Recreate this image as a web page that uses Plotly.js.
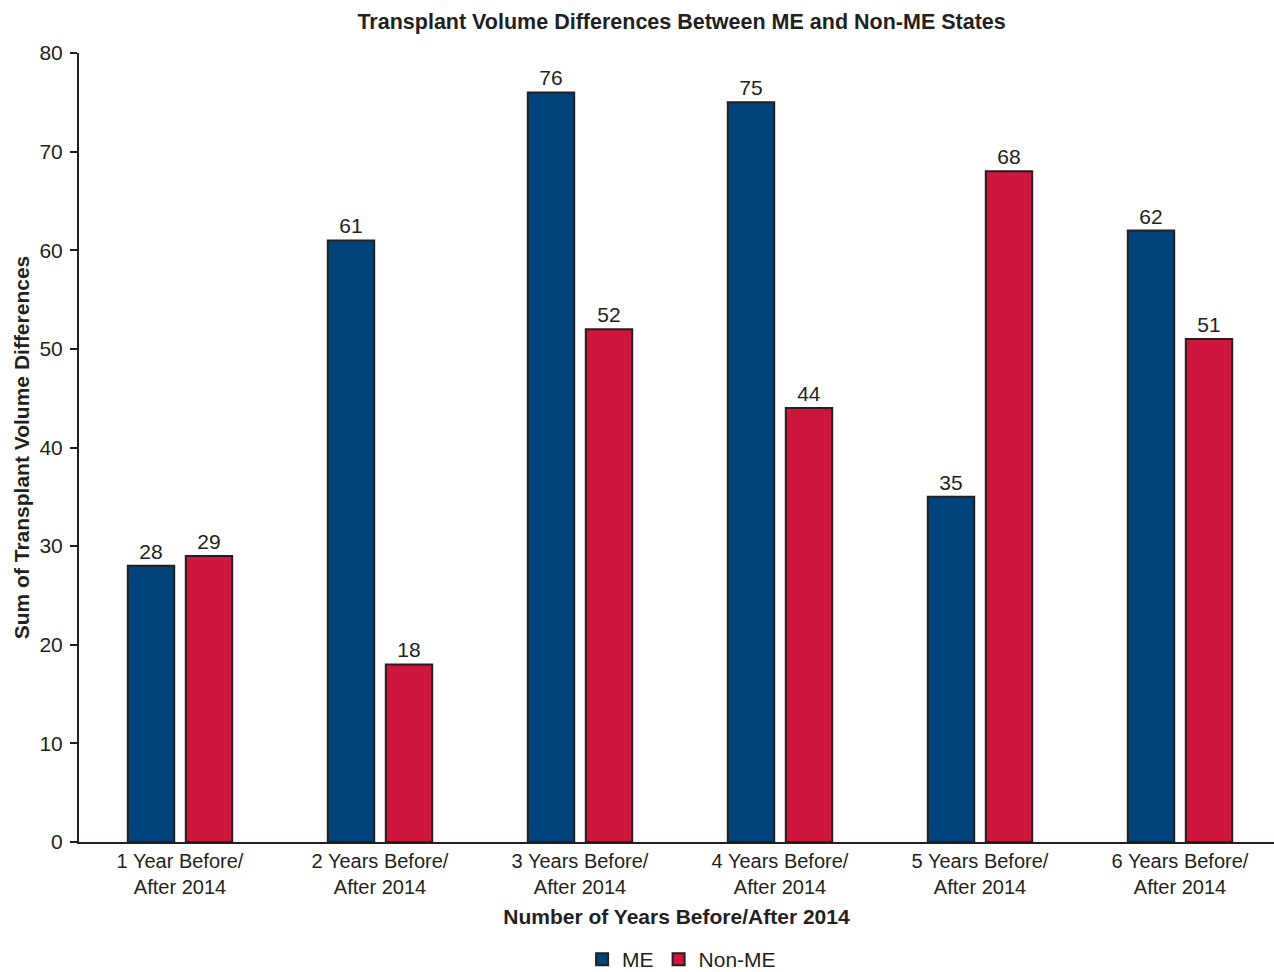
<!DOCTYPE html>
<html>
<head>
<meta charset="utf-8">
<script src="https://cdn.plot.ly/plotly-3.0.1.min.js"></script>
<style>html,body{margin:0;padding:0;background:#fff;}#chart{width:1274px;height:972px;}</style>
</head>
<body>
<div id="chart"></div>
<script>
const categories = ["1 Year Before/<br>After 2014", "2 Years Before/<br>After 2014", "3 Years Before/<br>After 2014", "4 Years Before/<br>After 2014", "5 Years Before/<br>After 2014", "6 Years Before/<br>After 2014"];
const meValues = [28, 61, 76, 75, 35, 62];
const nonMeValues = [29, 18, 52, 44, 68, 51];
const yTicks = [0, 10, 20, 30, 40, 50, 60, 70, 80];

const dark = "#231f20";
const font = "Liberation Sans, Arial, sans-serif";
const fs = 21;

const traces = [
  {type: "bar", name: "ME", x: categories, y: meValues, text: meValues.map(String),
   textposition: "outside", cliponaxis: false,
   textfont: {family: font, size: fs, color: dark},
   marker: {color: "#00427a", line: {color: dark, width: 2}}},
  {type: "bar", name: "Non-ME", x: categories, y: nonMeValues, text: nonMeValues.map(String),
   textposition: "outside", cliponaxis: false,
   textfont: {family: font, size: fs, color: dark},
   marker: {color: "#cf163c", line: {color: dark, width: 2}}}
];

const layout = {
  width: 1274, height: 972,
  margin: {l: 79, r: 0, t: 53, b: 130, autoexpand: false},
  paper_bgcolor: "#fff", plot_bgcolor: "#fff",
  font: {family: font, color: dark, size: fs},
  barmode: "group", bargap: 0.42, bargroupgap: 0.2,
  title: {text: "<b>Transplant Volume Differences Between ME and Non-ME States</b>",
          font: {family: font, size: 21.5, color: dark},
          x: 0.535, xref: "container", xanchor: "center", y: 0.978, yref: "container", yanchor: "middle"},
  xaxis: {type: "category", range: [-0.505, 5.47], showline: true, linecolor: dark, linewidth: 2,
          ticks: "", showgrid: false, zeroline: false,
          tickfont: {family: font, size: 20, color: dark},
          title: {text: "<b>Number of Years Before/After 2014</b>", font: {family: font, size: fs, color: dark}, standoff: 12}},
  yaxis: {range: [0, 80], tickvals: yTicks, showline: true, linecolor: dark, linewidth: 2,
          ticks: "outside", ticklen: 7, tickwidth: 2, tickcolor: dark, showgrid: false, zeroline: false,
          ticklabelstandoff: 3,
          tickfont: {family: font, size: fs, color: dark},
          title: {text: "<b>Sum of Transplant Volume Differences</b>", font: {family: font, size: fs, color: dark}, standoff: 4}},
  showlegend: true,
  legend: {orientation: "h", x: 0.535, xref: "container", xanchor: "center", y: -0.149, yref: "paper", yanchor: "middle",
           font: {family: font, size: fs, color: dark}, itemwidth: 30, traceorder: "normal"}
};

Plotly.newPlot("chart", traces, layout, {displayModeBar: false, staticPlot: true});
</script>
</body>
</html>
